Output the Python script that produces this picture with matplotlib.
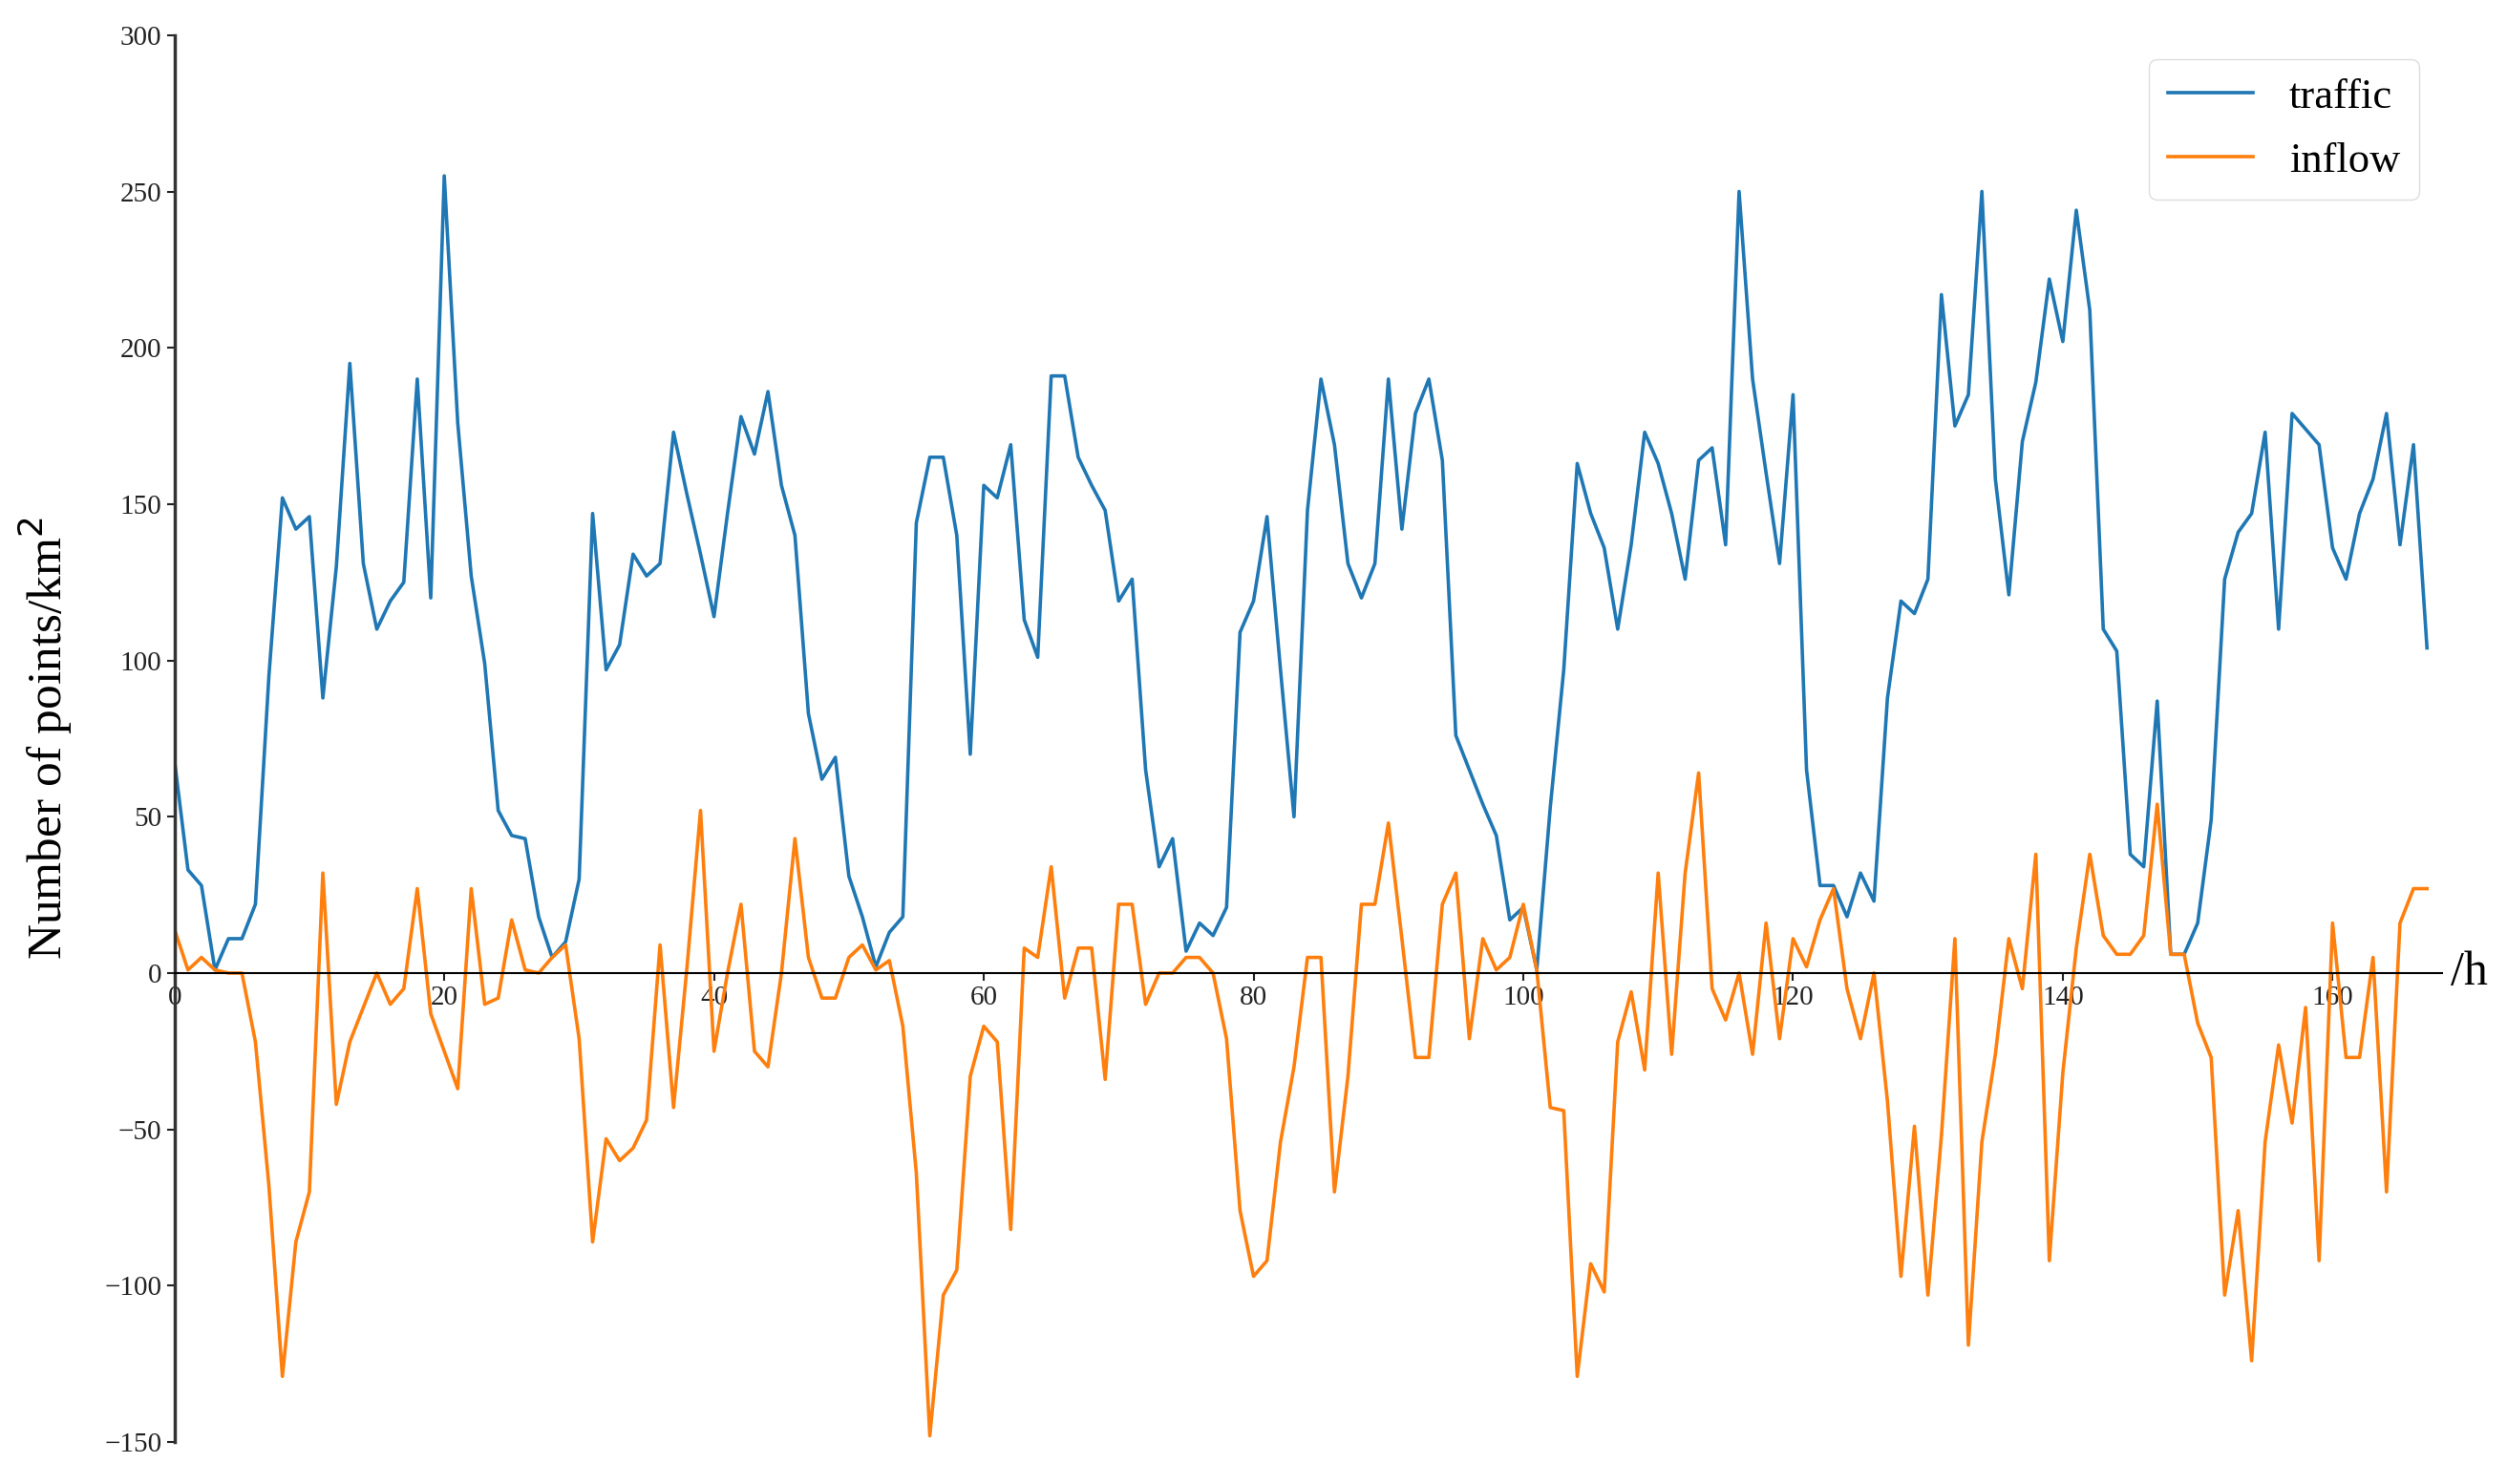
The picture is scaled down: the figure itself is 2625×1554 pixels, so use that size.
import numpy as np
import matplotlib
matplotlib.use("Agg")
import matplotlib.pyplot as plt
import matplotlib.transforms as mtransforms

# horas 0..167
hours = np.arange(168)

traffic = [
    68, 33, 28, 1, 11, 11, 22, 95, 152, 142,
    146, 88, 130, 195, 131, 110, 119, 125, 190, 120,
    255, 176, 127, 99, 52, 44, 43, 18, 5, 10,
    30, 147, 97, 105, 134, 127, 131, 173, 153, 134,
    114, 147, 178, 166, 186, 156, 140, 83, 62, 69,
    31, 18, 2, 13, 18, 144, 165, 165, 140, 70,
    156, 152, 169, 113, 101, 191, 191, 165, 156, 148,
    119, 126, 65, 34, 43, 7, 16, 12, 21, 109,
    119, 146, 97, 50, 148, 190, 169, 131, 120, 131,
    190, 142, 179, 190, 164, 76, 65, 54, 44, 17,
    21, 1, 53, 97, 163, 147, 136, 110, 137, 173,
    163, 147, 126, 164, 168, 137, 250, 190, 160, 131,
    185, 65, 28, 28, 18, 32, 23, 88, 119, 115,
    126, 217, 175, 185, 250, 158, 121, 170, 189, 222,
    202, 244, 212, 110, 103, 38, 34, 87, 6, 6,
    16, 49, 126, 141, 147, 173, 110, 179, 174, 169,
    136, 126, 147, 158, 179, 137, 169, 104,
]

inflow = [
    14, 1, 5, 1, 0, 0, -22, -68, -129, -86,
    -70, 32, -42, -22, -11, 0, -10, -5, 27, -13,
    -25, -37, 27, -10, -8, 17, 1, 0, 5, 9,
    -21, -86, -53, -60, -56, -47, 9, -43, 2, 52,
    -25, 0, 22, -25, -30, 0, 43, 5, -8, -8,
    5, 9, 1, 4, -17, -64, -148, -103, -95, -33,
    -17, -22, -82, 8, 5, 34, -8, 8, 8, -34,
    22, 22, -10, 0, 0, 5, 5, 0, -21, -76,
    -97, -92, -54, -30, 5, 5, -70, -33, 22, 22,
    48, 11, -27, -27, 22, 32, -21, 11, 1, 5,
    22, 1, -43, -44, -129, -93, -102, -22, -6, -31,
    32, -26, 32, 64, -5, -15, 0, -26, 16, -21,
    11, 2, 17, 27, -5, -21, 0, -41, -97, -49,
    -103, -52, 11, -119, -54, -26, 11, -5, 38, -92,
    -32, 8, 38, 12, 6, 6, 12, 54, 6, 6,
    -16, -27, -103, -76, -124, -54, -23, -48, -11, -92,
    16, -27, -27, 5, -70, 16, 27, 27,
]

plt.rcParams["font.family"] = ["Liberation Serif", "DejaVu Serif"]

fig = plt.figure(figsize=(26.25, 15.54), dpi=100)
ax = fig.add_axes([0.0696, 0.0283, 0.9044, 0.948])

ax.plot(hours, traffic, color="tab:blue", linewidth=2.6, label="traffic")
ax.plot(hours, inflow, color="tab:orange", linewidth=2.6, label="inflow")

ax.set_xlim(0, 168.1)
ax.set_ylim(-150, 300)
ax.set_xticks(range(0, 161, 20))
ax.set_yticks(range(-150, 301, 50))

#? ejes: x en el cero, sin bordes arriba/derecha
ax.spines["top"].set_visible(False)
ax.spines["right"].set_visible(False)
ax.spines["bottom"].set_position(("data", 0))
ax.spines["bottom"].set_linewidth(1.5)
ax.spines["left"].set_linewidth(2.5)
ax.spines["left"].set_color("#333333")

ax.tick_params(axis="both", labelsize=21, length=6, width=1.5, colors="#222222")

ax.set_ylabel("Number of points/km$^2$", fontsize=37)
ax.yaxis.set_label_coords(-0.044, 0.5)

trans = mtransforms.blended_transform_factory(ax.transAxes, ax.transData)
ax.text(1.004, 0, "/h", transform=trans, fontsize=36, va="center", ha="left")

ax.legend(loc="upper right", bbox_to_anchor=(0.990, 0.983), borderaxespad=0,
          fontsize=32, handlelength=2.0, handletextpad=0.85, borderpad=0.45,
          labelspacing=0.6, framealpha=1, edgecolor="#dddddd")

fig.savefig("out.png", dpi=100)
